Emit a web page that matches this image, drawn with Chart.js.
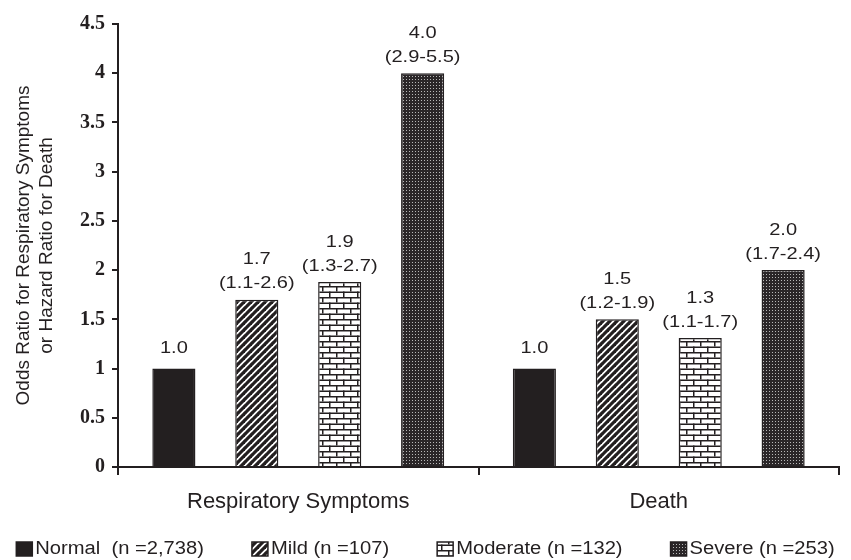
<!DOCTYPE html>
<html>
<head>
<meta charset="utf-8">
<script src="https://cdn.jsdelivr.net/npm/chart.js@4.4.1/dist/chart.umd.min.js"></script>
<style>
  html, body { margin: 0; padding: 0; background: #fff; }
  #wrap { width: 851px; height: 560px; }
</style>
</head>
<body>
<div id="wrap"><canvas id="chartCanvas" width="851" height="560"></canvas></div>
<script>
const categories = ['Respiratory Symptoms', 'Death'];
const seriesNames = ['Normal  (n =2,738)', 'Mild (n =107)', 'Moderate (n =132)', 'Severe (n =253)'];

const normalValues = [1.0, 1.0];
const mildValues = [1.7, 1.5];
const moderateValues = [1.88, 1.31];
const severeValues = [4.0, 2.0];

const normalLabels = [['1.0'], ['1.0']];
const mildLabels = [['1.7', '(1.1-2.6)'], ['1.5', '(1.2-1.9)']];
const moderateLabels = [['1.9', '(1.3-2.7)'], ['1.3', '(1.1-1.7)']];
const severeLabels = [['4.0', '(2.9-5.5)'], ['2.0', '(1.7-2.4)']];

const yTicks = [0, 0.5, 1, 1.5, 2, 2.5, 3, 3.5, 4, 4.5];

const INK = '#231f20';
const SANS = '"Liberation Sans", Arial, sans-serif';

function makePattern(w, h, draw) {
    const c = document.createElement('canvas');
    c.width = w;
    c.height = h;
    const g = c.getContext('2d');
    draw(g, w, h);
    return g.createPattern(c, 'repeat');
}

const ctx = document.getElementById('chartCanvas').getContext('2d');

// diagonal stripes
const stripePattern = makePattern(7, 7, (g, w, h) => {
    g.fillStyle = '#fff';
    g.fillRect(0, 0, w, h);
    g.strokeStyle = INK;
    g.lineWidth = 3.2;
    for (let k = -1; k <= 1; k++) {
        g.beginPath();
        g.moveTo(-1 + k * w, h + 1);
        g.lineTo(w + 1 + k * w, -1);
        g.stroke();
    }
});

// bricks
const brickPattern = makePattern(14, 11, (g, w, h) => {
    g.fillStyle = '#fff';
    g.fillRect(0, 0, w, h);
    g.fillStyle = INK;
    g.fillRect(0, 0, w, 1.5);
    g.fillRect(0, 5.5, w, 1.5);
    g.fillRect(0, 0, 1.5, 5.5);
    g.fillRect(7, 5.5, 1.5, 5.5);
});

// dark dotted
const dotPattern = makePattern(3, 3, (g, w, h) => {
    g.fillStyle = '#2a2628';
    g.fillRect(0, 0, w, h);
    g.fillStyle = '#b8b8b8';
    g.fillRect(1, 1, 1, 1);
});

const allLabels = [normalLabels, mildLabels, moderateLabels, severeLabels];

// text in the original is a bit wide, so stretch it horizontally
function wideText(c, txt, x, y, sx) {
    c.save();
    c.translate(x, y);
    c.scale(sx, 1);
    c.fillText(txt, 0, 0);
    c.restore();
}

const valueLabelPlugin = {
    id: 'valueLabels',
    afterDatasetsDraw(chart) {
        const c = chart.ctx;
        c.save();
        c.fillStyle = INK;
        c.font = '17px ' + SANS;
        c.textAlign = 'center';
        c.textBaseline = 'middle';
        chart.data.datasets.forEach((ds, i) => {
            const meta = chart.getDatasetMeta(i);
            meta.data.forEach((bar, j) => {
                const lines = allLabels[i][j];
                const offsets = lines.length === 1 ? [20] : [40, 16];
                lines.forEach((txt, k) => wideText(c, txt, bar.x, bar.y - offsets[k], 1.18));
            });
        });
        c.restore();
    }
};

// legend drawn by hand so spacing matches the original
const legendPlugin = {
    id: 'wideLegend',
    afterDraw(chart) {
        const c = chart.ctx;
        const sx = 1.12, boxW = 16, boxH = 14, gap = 48, textGap = 3;
        const y = 549;
        c.save();
        c.font = '18px ' + SANS;
        c.textBaseline = 'middle';
        c.textAlign = 'left';
        const items = chart.data.datasets.map(ds => ({
            ds: ds,
            w: boxW + textGap + c.measureText(ds.label).width * sx
        }));
        const total = items.reduce((s, it) => s + it.w, 0) + gap * (items.length - 1);
        let x = (chart.width - total) / 2;
        items.forEach(it => {
            c.fillStyle = it.ds.backgroundColor;
            c.fillRect(x, y - boxH / 2, boxW, boxH);
            c.strokeStyle = INK;
            c.lineWidth = 1.5;
            c.strokeRect(x, y - boxH / 2, boxW, boxH);
            c.fillStyle = INK;
            wideText(c, it.ds.label, x + boxW + textGap, y, sx);
            x += it.w + gap;
        });
        c.restore();
    }
};

const barStyle = {
    borderColor: INK,
    borderWidth: 1.5,
    borderSkipped: 'bottom',
    categoryPercentage: 0.92,
    barPercentage: 0.52
};

new Chart(ctx, {
    type: 'bar',
    data: {
        labels: categories,
        datasets: [
            Object.assign({ label: seriesNames[0], data: normalValues, backgroundColor: INK }, barStyle),
            Object.assign({ label: seriesNames[1], data: mildValues, backgroundColor: stripePattern }, barStyle),
            Object.assign({ label: seriesNames[2], data: moderateValues, backgroundColor: brickPattern }, barStyle),
            Object.assign({ label: seriesNames[3], data: severeValues, backgroundColor: dotPattern }, barStyle)
        ]
    },
    options: {
        responsive: false,
        animation: false,
        layout: { padding: { left: 13, right: 12, top: 24, bottom: 43 } },
        plugins: {
            legend: { display: false },
            tooltip: { enabled: false }
        },
        scales: {
            x: {
                grid: { display: true, drawOnChartArea: false, drawTicks: true, tickLength: 8, color: INK, lineWidth: 2 },
                border: { display: true, color: INK, width: 2 },
                ticks: {
                    color: INK,
                    padding: 14,
                    font: { family: SANS, size: 22 }
                },
                afterFit(scale) { scale.height = 50; }
            },
            y: {
                min: 0,
                max: 4.5,
                afterBuildTicks(scale) { scale.ticks = yTicks.map(v => ({ value: v })); },
                grid: { display: true, drawOnChartArea: false, drawTicks: true, tickLength: 6, color: INK, lineWidth: 2 },
                border: { display: true, color: INK, width: 2 },
                ticks: {
                    color: INK,
                    padding: 7,
                    font: { family: '"Liberation Serif", "Times New Roman", serif', size: 20, weight: 'bold' },
                    callback: v => String(v)
                },
                title: {
                    display: true,
                    text: ['Odds Ratio for Respiratory Symptoms', 'or Hazard Ratio for Death'],
                    color: INK,
                    font: { family: SANS, size: 19, lineHeight: 1.18 },
                    padding: { top: 0, bottom: 4 }
                },
                afterFit(scale) { scale.width = 105; }
            }
        }
    },
    plugins: [valueLabelPlugin, legendPlugin]
});
</script>
</body>
</html>
